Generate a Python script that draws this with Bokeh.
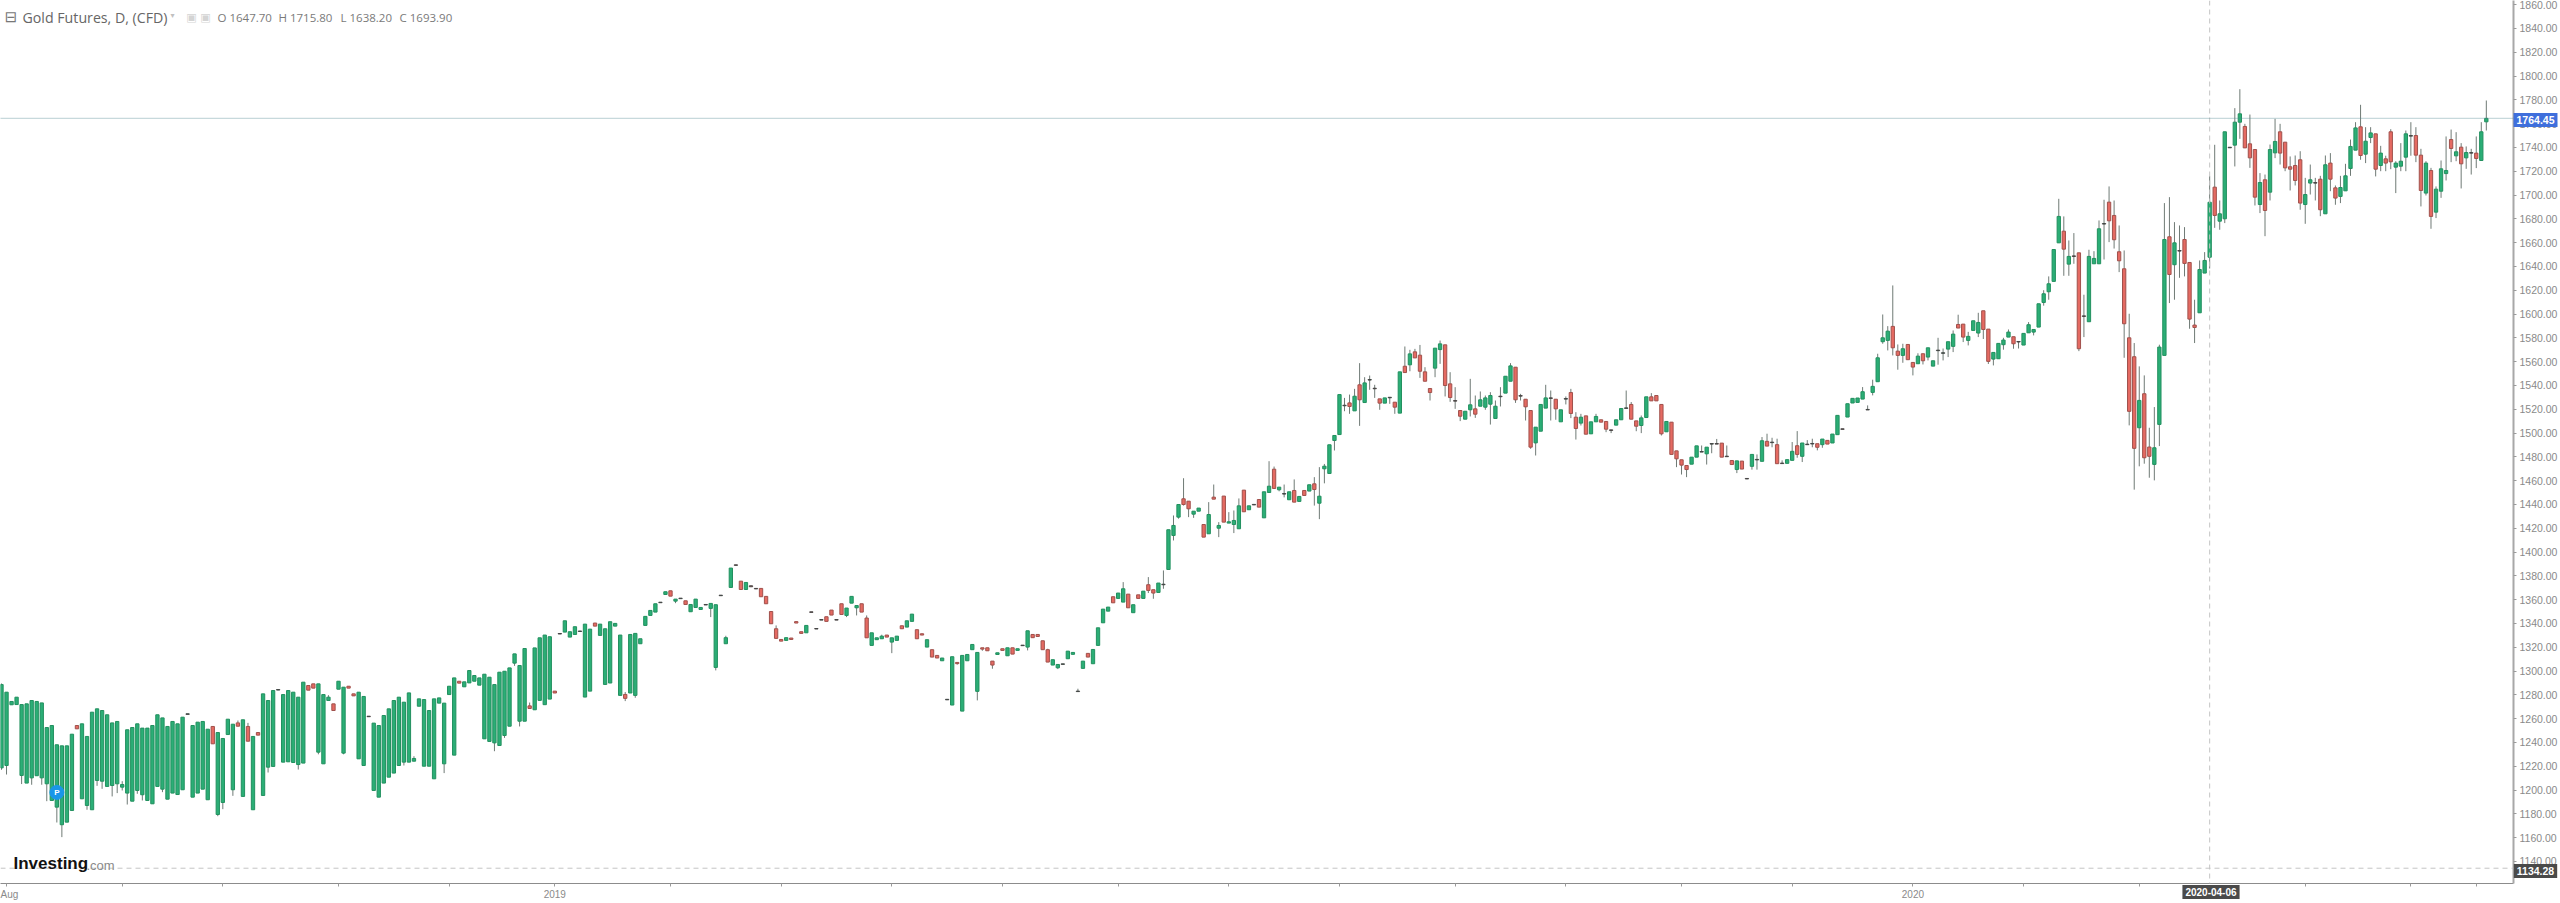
from bokeh.plotting import figure
from bokeh.models import Label, Span, FixedTicker, ColumnDataSource
from bokeh.core.properties import value
from bokeh.embed import file_html
from bokeh.resources import INLINE

opens = [
1218.6,1220.6,1271.6,1271.8,1212.2,1205.8,1210.2,1212,1210.2,1205.2,
1191.2,1185.6,1170.8,1173,1182.8,1254.2,1192.6,1187,1183.4,1208,
1207.4,1203,1203.8,1205.2,1202.4,1197.4,1190.6,1199.6,1196,1191.2,
1188.4,1203,1200.7,1192.3,1197.4,1196.2,1200.2,1263.6,1194,1197.4,
1200.7,1191.8,1253.4,1179.4,1189.5,1246.6,1200.2,1256.4,1194.6,1253.4,
1183.4,1248.3,1195.4,1219.2,1219.8,1284,1223.4,1223.7,1223.1,1221.4,
1222.6,1287.8,1289.2,1231.8,1222,1275.2,1272.4,1284.7,1231,1287.2,
1280.8,1226.2,1220.6,1262,1199.6,1194,1205.8,1210.8,1214.2,1220.6,
1223.4,1223.4,1224.2,1270.4,1220,1220,1209.4,1273,1222,1280.2,
1229.3,1291.4,1286.7,1290,1291.4,1288.1,1243,1240.8,1239.6,1237.4,
1245.8,1253.6,1306.6,1257.8,1257.8,1270.7,1267.4,1275.3,1271.7,1276.4,
1283.1,1331.5,1332.7,1328.5,1330.7,1333.2,1278.1,1283.1,1340.3,1329.9,
1288.7,1289.9,1337.7,1279.5,1280.3,1281.5,1279.5,1322.9,1338.3,1346.7,
1349.5,1357.4,1364.3,1367.4,1358.7,1360.8,1359,1349.8,1353.4,1351.7,
1355.5,1352.6,1303,1363.3,1322.9,1370.2,1389.2,1375.5,1368.5,1371.6,
1369.4,1369.4,1362.7,1350,1335.5,1326.5,1325.7,1327.7,1341.5,1333,
1332.1,1349.7,1335.7,1342.8,1345.6,1351.2,1343.2,1356.5,1346.7,1357,
1353.1,1356.5,1344.5,1321.5,1326.3,1327.1,1330.2,1324.3,1325.7,1338,
1336.9,1341.7,1334.7,1331.3,1320.1,1317.9,1313.1,1308.6,1275.8,1271.4,
1307.2,1266.3,1308.6,1317.9,1282.9,1319.5,1319.5,1308.3,1313.9,1318.7,
1312.8,1319.5,1317.3,1321.3,1320.1,1330.7,1330.7,1325.4,1317.9,1305,
1302.7,1305.6,1310.3,1314,1282.7,1302.2,1314.8,1306.1,1321.5,1340.5,
1350.3,1362.4,1361,1357.9,1364.6,1349,1364,1361,1372.5,1368.3,
1366,1372.5,1385.3,1413.9,1429.3,1444.7,1442.7,1431.8,1434.3,1423.1,
1415.3,1446.1,1420,1447,1424.3,1423.1,1419.5,1452,1435.5,1439.6,
1444.1,1428.7,1450,1469.6,1452.3,1448.7,1443.9,1451.7,1442.5,1451.7,
1451.2,1457.3,1441,1469.9,1466,1493.7,1498.7,1522.9,1525.3,1518.6,
1540.5,1525.6,1544.5,1537.6,1528.7,1525.1,1529.6,1525.9,1516.7,1556.1,
1557.3,1568.2,1565.4,1551.4,1537.4,1554.5,1570.1,1574.1,1541.3,1527.2,
1518.9,1511.6,1519.5,1520.3,1522.5,1521.7,1524.2,1512.2,1530.9,1533.5,
1543.5,1555.3,1531.4,1528.4,1518.9,1491.7,1501.5,1520.9,1529.5,1528.4,
1509.4,1528.5,1534,1513.3,1508.3,1514.4,1499.3,1509.4,1511.1,1509.7,
1502.6,1506.6,1511.1,1520.7,1524,1510.2,1506.3,1513,1530.4,1531.5,
1524,1501,1509.1,1485,1477.5,1472.7,1473.8,1479.7,1484,1482.5,
1490.7,1491.1,1491.5,1480.5,1476.9,1469.3,1476.4,1461.8,1472,1477.4,
1476.2,1493,1491.9,1490.2,1474.7,1474.5,1477,1489.3,1480.4,1490.2,
1490.8,1491,1490.2,1493.8,1491.6,1498.6,1503.5,1513.4,1525.2,1525.7,
1528.5,1519.4,1534.1,1543.1,1576.7,1577.8,1589.6,1568.8,1565.2,1574.4,
1559.3,1558.2,1566.6,1563.8,1556.2,1569.2,1567,1570.5,1572.8,1591.2,
1591.5,1577.8,1586.2,1584,1602.7,1587.3,1562.1,1562.4,1574.2,1580.6,
1580.9,1576.5,1573.9,1584.2,1584.8,1589,1609.7,1618.7,1627.4,1659.8,
1669.6,1641.9,1648.8,1651.4,1598.4,1593.5,1642.2,1642.2,1675.6,1694,
1682.8,1652.3,1638,1580,1564.1,1504.4,1533,1488.2,1473.6,1507.2,
1565.2,1664.9,1641.4,1653.3,1662.6,1643.3,1590.7,1601,1634.4,1647.7,
1706.6,1678,1680,1739.7,1741.9,1761.2,1757.6,1743,1738.2,1692,
1712.8,1702.4,1735.4,1753.1,1744.4,1723.7,1724.8,1729.6,1692,1710,
1710.4,1713.3,1684.2,1726.8,1706,1698.8,1703.5,1722.3,1737.7,1757.3,
1734.3,1748.3,1751.4,1724.8,1730.4,1753.1,1723.4,1724.2,1731.8,1749.5,
1750,1733.5,1701.6,1720.6,1685.6,1703.2,1718,1746.6,1732.9,1740.2,
1731.2,1735.2,1735.2,1729,1761.5,
]

closes = [
1288.6,1282.2,1274.4,1278,1271.8,1272.4,1275.2,1274.4,1273.2,1252.5,
1254.2,1238,1237.1,1237.1,1246.9,1251.4,1255.6,1245,1265.4,1268.2,
1266.8,1263.2,1256.4,1257.6,1204.6,1250.6,1252.5,1255.6,1252,1252,
1254.2,1263.2,1260.6,1253.4,1257.6,1255.6,1261.2,1264,1254.2,1257,
1257.6,1251.1,1238.8,1248.3,1243.3,1259.5,1255.3,1253.6,1259,1241,
1245,1246.1,1280.8,1275.2,1283.6,1284.4,1280.2,1283.6,1282.2,1278,
1290.6,1283.9,1285.6,1289.2,1280.2,1278,1266.8,1291.4,1286.4,1285.6,
1279.1,1282.2,1278.6,1261.6,1256.2,1254.2,1262.6,1268.2,1275.2,1278,
1273.8,1281.6,1226.5,1276.6,1276,1266.8,1276.6,1277.4,1273,1287.2,
1294.2,1289.8,1290.9,1300.4,1296.2,1294.2,1297.3,1294.8,1288.6,1299,
1299.8,1302.6,1314.4,1304.6,1318.9,1268.5,1319.4,1327.9,1330.2,1328.8,
1281.5,1331.1,1342.2,1333,1337.2,1333.6,1339.4,1335.2,1337.7,1339.4,
1335.5,1341.4,1340,1330.2,1277,1330.7,1331.6,1327.1,1345.9,1350.9,
1356.5,1357.8,1366.6,1362.9,1360.4,1361.2,1355.9,1355.9,1360.4,1353.4,
1355.9,1356.8,1355.7,1363.7,1328,1386.5,1388.8,1368.5,1374.4,1370.8,
1369,1362.4,1356.5,1339.7,1327.4,1325.1,1328,1326.5,1340.3,1331.6,
1338.3,1349.3,1335.3,1343.2,1341.7,1347,1342.8,1347.5,1352.9,1362.7,
1355,1349.5,1327.9,1332.1,1327.9,1329.3,1328.5,1327.9,1329.3,1335.5,
1342.2,1347.8,1327.1,1330.2,1326.3,1311.7,1310.9,1310.9,1276.2,1312,
1306.2,1313.1,1313.9,1322.3,1315.6,1318.4,1317,1305,1315.3,1317.3,
1319.5,1314.2,1318.7,1321.7,1333.8,1328,1329,1317.9,1307.5,1309.5,
1305.5,1306,1316.7,1315.6,1283.1,1308.3,1311.7,1318.1,1336.3,1352,
1353.7,1357.3,1365.5,1369.1,1353.1,1355.7,1361,1367.1,1367.7,1365.5,
1373.9,1372.9,1418.7,1422.3,1439.9,1439.9,1436.3,1434.3,1436.9,1412.5,
1431.5,1444.4,1422.3,1425.1,1425.4,1426.5,1438.8,1433.8,1438.8,1440,
1437.7,1450.6,1455.3,1453.4,1454.5,1449.1,1450.6,1441.9,1446.7,1447.5,
1456.5,1452.5,1446.9,1472.1,1490.1,1497.9,1532.3,1523.3,1522.3,1530.9,
1527.9,1542.1,1544.9,1537.2,1525.1,1529.5,1530,1521.7,1551.4,1550.8,
1566.5,1563.1,1551.9,1543.5,1534,1571.3,1574.9,1539.9,1529.8,1526.8,
1514.1,1518.3,1523.7,1515.8,1527.9,1529.5,1531.5,1522.5,1530.5,1547.7,
1556.4,1527.9,1531,1522,1488.1,1504.9,1524,1529.5,1529.1,1520.3,
1519.5,1528.9,1516.4,1503.8,1513.3,1499,1509.4,1513.9,1509.1,1503.2,
1502.2,1511.1,1520.6,1521.1,1511.6,1505.7,1512.7,1530.4,1527,1527,
1499.3,1509.7,1482,1478.3,1473,1469.3,1479.7,1489.2,1484.4,1488.1,
1491.1,1490.7,1479.7,1480.1,1473.5,1476.6,1469.7,1461.4,1482,1477.8,
1493.5,1489,1492.3,1474.2,1474.3,1477.6,1484.6,1482,1491.6,1490.6,
1491.2,1488,1494.9,1490.7,1499.1,1514.8,1503.1,1524.6,1529.1,1529.4,
1534.7,1519.8,1539.2,1563.2,1580,1585.6,1571.6,1565.2,1570.8,1561.6,
1555.4,1564.6,1560.7,1571.6,1560.7,1569.6,1567.4,1576.7,1583.1,1588.2,
1580.6,1581.2,1594.3,1592.9,1587,1560.2,1567.7,1575.3,1578.1,1584.8,
1575,1576.9,1583.7,1591,1587,1608.6,1617,1625.4,1654.2,1682,
1654.5,1648.4,1648.4,1570.8,1598,1648.4,1646.7,1671.6,1676,1678.3,
1662.4,1644.7,1591.8,1518.2,1487.1,1527.4,1479.2,1480.4,1487.6,1572.2,
1662.6,1633.2,1659.8,1652.9,1642.5,1595.7,1588.7,1637.4,1645,1693.9,
1682.8,1684.2,1753.1,1740.1,1761.2,1768.2,1739.6,1731.2,1698.2,1710.5,
1687,1738.2,1745,1735.2,1722.8,1721.7,1712.2,1693.2,1700.4,1712.8,
1710,1687.6,1725.4,1713.3,1697.4,1706.3,1716.1,1740.8,1756.4,1733.2,
1745.2,1752.2,1721.7,1735.2,1726.8,1727.9,1726.8,1728.4,1751.4,1749.9,
1733.5,1703.8,1726.8,1682,1704.9,1722,1720.6,1739.1,1736.3,1726.2,
1735.7,1735.6,1730.7,1753.1,1764.4,
]

highs = [
1289.5,1282.2,1274.4,1278,1271.8,1272.4,1275.2,1274.4,1273.2,1252.5,
1254.2,1238,1237.1,1237.1,1246.9,1254.2,1255.6,1245,1265.4,1268.2,
1266.8,1263.2,1256.4,1257.6,1207.4,1250.6,1252.5,1255.6,1252,1252,
1254.2,1263.2,1260.6,1253.4,1257.6,1255.6,1261.2,1264,1254.2,1257,
1257.6,1251.1,1253.4,1248.3,1243.3,1259.5,1255.3,1258.4,1259,1256.4,
1245,1248.3,1280.8,1275.2,1283.6,1284.4,1280.2,1283.6,1282.2,1278,
1290.6,1287.8,1289.2,1289.2,1280.2,1279.7,1272.4,1291.4,1286.4,1287.2,
1280.8,1282.2,1278.6,1262,1256.2,1254.2,1262.6,1268.2,1275.2,1278,
1273.8,1281.6,1228.4,1276.6,1276,1266.8,1276.6,1277.4,1273,1287.2,
1294.2,1291.4,1290.9,1300.4,1296.2,1294.2,1297.3,1294.8,1288.6,1299,
1299.8,1302.6,1314.4,1304.6,1318.9,1273.5,1319.4,1327.9,1330.2,1328.8,
1283.1,1331.5,1342.2,1333,1337.2,1333.6,1339.4,1335.2,1340.3,1339.4,
1335.5,1341.4,1340,1330.2,1282.3,1330.7,1331.6,1327.1,1345.9,1350.9,
1356.5,1357.8,1366.6,1367.4,1360.4,1361.2,1359,1355.9,1360.4,1353.4,
1355.9,1356.8,1355.7,1363.7,1329.6,1386.5,1389.2,1375.5,1374.4,1371.6,
1369.4,1369.4,1362.7,1350,1338.3,1326.5,1328,1327.7,1341.5,1333,
1338.3,1349.7,1335.7,1343.2,1345.6,1351.2,1343.2,1356.5,1352.9,1362.7,
1355,1356.5,1346.7,1332.1,1327.9,1330.5,1330.2,1327.9,1329.3,1338,
1342.2,1347.8,1334.7,1331.3,1326.3,1317.9,1313.1,1310.9,1276.2,1312,
1307.2,1313.1,1313.9,1322.3,1315.6,1319.5,1319.5,1308.3,1315.3,1318.7,
1319.5,1319.5,1318.7,1321.7,1333.8,1330.7,1330.7,1325.4,1318.7,1309.5,
1305.5,1306,1316.7,1315.6,1285.1,1308.3,1314.8,1318.1,1336.3,1352,
1353.7,1362.4,1365.5,1374.7,1364.6,1355.7,1364,1367.1,1378.9,1368.3,
1373.9,1384.5,1418.7,1430.7,1439.9,1462,1442.7,1434.3,1436.9,1423.1,
1441.9,1456.7,1425.1,1447,1433.5,1434.9,1445,1452,1438.8,1440,
1444.1,1450.6,1476.3,1471.8,1454.5,1456.7,1450.6,1461,1446.7,1451.7,
1456.5,1462.9,1471.3,1474,1490.1,1497.9,1532.3,1529.5,1532.3,1537.1,
1558.7,1546.9,1548.3,1540.5,1528.7,1529.5,1530,1525.9,1551.4,1572.7,
1569.9,1570.7,1574,1555.3,1537.4,1571.3,1577.7,1574.1,1551.1,1538.5,
1518.9,1518.3,1545.5,1531.5,1534.9,1531.5,1534.3,1527.3,1538.5,1547.7,
1558.7,1555.3,1532.9,1528.4,1518.9,1504.9,1524,1540.5,1535.7,1528.4,
1519.5,1530.7,1537.1,1517.5,1516.1,1514.4,1509.4,1516.1,1511.1,1509.7,
1502.6,1511.1,1520.6,1535.7,1526,1510.2,1514.7,1530.4,1533.5,1531.5,
1524,1509.7,1509.1,1485,1477.5,1472.7,1479.7,1489.2,1489.5,1488.1,
1491.1,1495,1491.5,1489.5,1476.9,1476.6,1476.4,1461.8,1482,1482,
1496.6,1499.4,1496,1495.2,1477,1477.6,1492.4,1501.6,1491.6,1494,
1495.2,1491,1494.9,1493.8,1499.1,1514.8,1503.5,1524.6,1529.1,1529.4,
1538.6,1523.2,1544.8,1566.6,1599.6,1589.8,1624,1574.4,1575,1574.4,
1559.3,1567,1566.6,1571.6,1560.7,1580,1571,1576.7,1586.2,1599.4,
1591.5,1585,1594.3,1601,1602.7,1587.3,1567.7,1575.3,1580,1587,
1580.9,1576.9,1583.7,1593.2,1587,1608.6,1620,1631.6,1654.2,1696.8,
1682,1661.8,1668,1651.4,1616.2,1654,1652.8,1678.6,1696,1707.2,
1695.4,1674.4,1653.4,1600.2,1575.6,1556,1548.4,1504.4,1521.8,1574.2,
1693.2,1698.2,1677.2,1674.4,1673,1643.3,1612,1645,1652,1715.8,
1742.2,1695.4,1753.1,1740.1,1773,1788.9,1759.8,1767.6,1738.2,1718.4,
1717.2,1742.4,1764,1759.8,1744.4,1732.4,1733.2,1736.8,1714.4,1725.6,
1714.4,1716.1,1733.2,1735.2,1708,1716.1,1726.2,1746.6,1761.2,1775.8,
1757,1757,1751.4,1741.3,1733,1755.3,1728.4,1743.6,1754.2,1761.2,
1757,1738.8,1728.4,1722.8,1707.2,1729,1749.2,1755,1752.8,1743.6,
1740.8,1738.8,1749.2,1761.2,1779.4,
]

lows = [
1217,1213,1271.6,1271.8,1205,1205.8,1204.4,1212,1204.4,1190.6,
1191.2,1172.7,1160.4,1173,1182.8,1251.4,1192.6,1183.4,1183.4,1203.5,
1201,1203,1194.6,1197.4,1199.6,1187.8,1190.6,1196.8,1191.2,1191.2,
1188.4,1203,1198.2,1192.3,1197.4,1196.2,1200.2,1263.6,1194,1197.4,
1200.7,1191.8,1238.8,1178,1183.9,1246.6,1195.1,1253.6,1194.6,1241,
1183.4,1246.1,1195.4,1214.7,1219.8,1284,1223.4,1223.7,1223.1,1217.2,
1222.6,1283.9,1285.6,1230,1222,1275.2,1266.8,1284.7,1230,1285.6,
1279.1,1226.2,1220.6,1261.6,1199.6,1194,1205.8,1210.8,1214.2,1220.6,
1220.6,1223.4,1224.2,1270.4,1220,1220,1209.4,1273,1214.2,1280.2,
1229.3,1289.8,1286.7,1290,1291.4,1288.1,1243,1240.8,1232.6,1237.4,
1243.8,1253.6,1304.3,1253.4,1257.8,1268.5,1267.4,1275.3,1271.7,1276.4,
1281.5,1331.1,1332.7,1328.5,1330.7,1333.2,1278.1,1283.1,1337.7,1329.9,
1288.7,1289.9,1337.7,1279.5,1274.7,1281.5,1277.5,1322.9,1338.3,1346.7,
1349.5,1357.4,1364.3,1362.9,1357,1360.8,1355.9,1349.8,1353.4,1351.7,
1355.5,1345.3,1300.5,1363.3,1322.9,1370.2,1388.8,1368.5,1368.5,1370.8,
1369,1362.4,1356.5,1339.7,1327.4,1325.1,1325.7,1326.5,1340.3,1331.6,
1332.1,1349.3,1335.3,1342.8,1341.7,1347,1342.8,1347.5,1345.3,1357,
1346.7,1349.5,1327.9,1321.5,1326.3,1327.1,1328.5,1315,1325.7,1335.5,
1336.9,1341.7,1327.1,1330.2,1320.1,1311.7,1310.9,1308.6,1275.8,1271.4,
1305.3,1266.3,1308.6,1317.9,1275.3,1317,1317,1301.9,1313.9,1317.3,
1312.8,1314.2,1317.3,1321.3,1317.3,1328,1329,1317.9,1307.5,1305,
1301.6,1305.6,1310.3,1314,1282.7,1302.2,1311.7,1306.1,1321.5,1340.5,
1350.3,1357.3,1361,1357.9,1353.1,1349,1361,1361,1365.5,1360.7,
1366,1369.1,1385.3,1409.7,1428,1439,1429.3,1428.7,1434.3,1412.5,
1415.3,1444.4,1412.5,1425.1,1424.3,1415.9,1419.5,1433.8,1435.5,1439.6,
1437.7,1428.7,1450,1453.4,1451,1445.9,1443.9,1441.9,1442.5,1447.5,
1451.2,1439,1427.6,1457.7,1466,1485.3,1498.7,1518.3,1516.1,1518.6,
1506,1525.6,1536.3,1529.5,1519.5,1525.1,1524.5,1516.1,1516.7,1550.8,
1551.9,1563.1,1546.3,1543.5,1527.3,1546.9,1558.1,1530.7,1526.2,1520.3,
1510,1511.6,1513.9,1512.7,1522.5,1519.5,1507.1,1512.2,1522.3,1533.5,
1543.5,1525.3,1527.3,1510.5,1486.7,1481.1,1501.5,1520.9,1510.5,1511.1,
1509.4,1524,1512.5,1494.5,1506.3,1499,1499.3,1509.4,1509.1,1500.7,
1499.9,1506.6,1511.1,1520.7,1511.6,1501.5,1499.9,1513,1527,1527,
1497.9,1501,1482,1471.3,1465.1,1462.9,1473.8,1479.7,1484,1473.5,
1483,1490.7,1479.7,1480.1,1473.5,1466.3,1469.7,1461.4,1469.2,1469.2,
1476.2,1489,1488,1474.2,1474.3,1474.5,1477,1479.2,1475.6,1490.2,
1488,1485.4,1487.6,1490.7,1491.6,1498.6,1503.1,1513.4,1525.2,1525.7,
1528.5,1519.4,1531.6,1543.1,1575,1569.4,1565.2,1553.2,1559,1561.6,
1548.4,1558.2,1557.6,1561,1556.2,1557.4,1561,1563.8,1568,1588.2,
1576.4,1573.6,1586.2,1580.6,1579,1558,1556.8,1562.4,1570,1580.6,
1570.8,1571,1573.9,1584.2,1582,1589,1607,1612,1627.4,1659.8,
1632.1,1632.1,1642.2,1568.8,1580.6,1593.5,1642.2,1642.2,1645.8,1660.4,
1655,1635.2,1563.2,1506.4,1452.4,1472,1474.2,1462.4,1460.2,1489,
1565.2,1609.2,1612,1630.4,1631.6,1587.6,1575.6,1601,1634.4,1638.2,
1672.4,1670.8,1676.4,1739.7,1724,1747.2,1739.6,1722.8,1691.2,1684.8,
1665.4,1695.4,1731,1725.6,1720,1703.8,1708,1687.6,1675.8,1700.4,
1695.4,1682.2,1684.2,1703.2,1691.8,1693.2,1703.5,1716.1,1737.7,1729.6,
1726.8,1743.6,1715.6,1720,1720,1721.7,1701.6,1720,1720,1733,
1727.6,1690.4,1699.6,1671.6,1680.6,1697.6,1712.2,1727.6,1728.4,1705.5,
1722,1717.2,1722.6,1729,1754.2,
]

price_ticks = [1140 + 20 * k for k in range(37)]
time_ticks = [1, 24, 44, 67, 89, 110, 133, 155, 177, 199, 222, 244, 266, 289, 311, 334, 356, 380, 402, 425, 458, 479, 492]
time_labels = {1: "Aug", 110: "2019", 380: "2020"}
last_price = 1764.45
low_marker = 1134.28
cross_index = 439
cross_date = "2020-04-06"
title_text = "Gold Futures, D, (CFD)"
pivot_index = 11
pivot_price = 1198

assert len(opens) == len(closes) == len(highs) == len(lows)

STEP = 5.03
PPU = 1.19
def xd(px):
    return (px - 1) / STEP
def yd(py):
    return 1800 - (py - 75.5) / PPU

FRAME_L, FRAME_R, FRAME_T, FRAME_B = 0, 2513, 0, 883

p = figure(width=2558, height=901, frame_width=FRAME_R - FRAME_L, frame_height=FRAME_B - FRAME_T,
           x_range=(xd(FRAME_L), xd(FRAME_R)), y_range=(yd(FRAME_B), yd(FRAME_T)),
           y_axis_location="right", toolbar_location=None, output_backend="svg",
           min_border_left=0, min_border_top=0, min_border_right=45, min_border_bottom=18)
p.grid.visible = False
p.outline_line_color = None
p.background_fill_color = "white"

UP_FILL, DOWN_FILL = "#2bae76", "#e56a62"
UP_LINE, DOWN_LINE = "#22905f", "#a0514c"

idx = list(range(len(opens)))
up = [c >= o for o, c in zip(opens, closes)]
tiny = [abs(o - c) < 1 for o, c in zip(opens, closes)]
src = ColumnDataSource(dict(
    x=idx, o=opens, c=closes, h=highs, l=lows,
    fill=[UP_FILL if u else DOWN_FILL for u in up],
    line=["#444444" if t else (UP_LINE if u else DOWN_LINE) for u, t in zip(up, tiny)],
))

p.add_layout(Span(location=cross_index, dimension="height", line_color="#c4c4c4", line_dash="5 4", line_width=1))
p.add_layout(Span(location=low_marker, dimension="width", line_color="#c4c4c4", line_dash="5 4", line_width=1))
p.add_layout(Span(location=last_price, dimension="width", line_color="#4f8790", line_dash="1 1", line_width=0.8))

p.segment("x", "h", "x", "l", source=src, line_color="#6f7a75", line_width=1)
p.vbar("x", top="o", bottom="c", width=0.66, source=src, fill_color="fill", line_color="line", line_width=1)

p.scatter([pivot_index], [pivot_price], size=14, marker="circle", fill_color="#1a96e8", line_color="#1a96e8")
p.text([pivot_index], [pivot_price], text=["P"], text_color="white", text_align="center", text_baseline="middle",
       text_font=value("Liberation Sans"), text_font_size="8px", text_font_style="bold")

ya = p.yaxis[0]
ya.ticker = FixedTicker(ticks=price_ticks)
ya.major_label_overrides = {t: f"{t:.2f}" for t in price_ticks}
ya.major_label_text_font = "Liberation Sans"
ya.major_label_text_font_size = "10.5px"
ya.major_label_text_color = "#8a8a8a"
ya.major_label_standoff = 3
ya.major_tick_out = 3
ya.major_tick_in = 0
ya.minor_tick_out = 0
ya.minor_tick_in = 0
ya.major_tick_line_color = "#9a9a9a"
ya.axis_line_color = "#a8a8a8"
ya.axis_line_width = 2

xa = p.xaxis[0]
xa.ticker = FixedTicker(ticks=time_ticks)
xa.major_label_overrides = {t: time_labels.get(t, "") for t in time_ticks}
xa.major_label_text_font = "Liberation Sans"
xa.major_label_text_font_size = "10px"
xa.major_label_text_color = "#8a8a8a"
xa.major_label_standoff = 2
xa.major_tick_out = 3
xa.major_tick_in = 0
xa.minor_tick_out = 0
xa.minor_tick_in = 0
xa.major_tick_line_color = "#9a9a9a"
xa.axis_line_color = "#8c8c8c"
xa.axis_line_width = 1

def lab(px, py, text, size, color, font="Open Sans", style="normal", align="left", side=None, **kw):
    lb = Label(x=px, y=py, x_units="canvas", y_units="canvas", text=text, text_font=font,
               text_font_size=f"{size}px", text_color=color, text_font_style=style,
               text_align=align, text_baseline="middle", **kw)
    if side:
        p.add_layout(lb, side)
    else:
        p.add_layout(lb)

lab(10.5, 16.5, "\u229f", 15, "#777777", font="DejaVu Sans", align="center")
lab(22, 17, title_text, 14.2, "#666666", font="Open Sans")
lab(172, 15, "\u25be", 8, "#c0c0c0", font="DejaVu Sans", align="center")
lab(191, 17, "\u25a3", 11, "#d4d4d4", font="DejaVu Sans", align="center")
lab(205, 17, "\u25a3", 11, "#d4d4d4", font="DejaVu Sans", align="center")
for px, letter, val in [(217, "O", opens[cross_index]), (278, "H", highs[cross_index]),
                        (340, "L", lows[cross_index]), (399, "C", closes[cross_index])]:
    lab(px, 17, f"{letter} {val:.2f}", 11.5, "#7a7a7a", font="Open Sans")

lab(13, 863, "Investing", 17, "#111111", font="Liberation Sans", style="bold")
lab(86, 865, ".com", 13, "#8a8a8a", font="Liberation Sans")

def flag(px, py, text, bg, size=10.5):
    lab(px, py, text, size, "white", font="Liberation Sans", style="bold", align="center", side="right",
        background_fill_color=bg, background_fill_alpha=1, padding=(3, 3))

flag(2535, 119.5, f"{last_price:.2f}", "#3f6fdc")
flag(2535, 870.5, f"{low_marker:.2f}", "#4a4a4a")
flag(2210.5, 891.5, cross_date, "#4a4a4a", size=10)

open("out.html", "w").write(file_html(p, INLINE))
